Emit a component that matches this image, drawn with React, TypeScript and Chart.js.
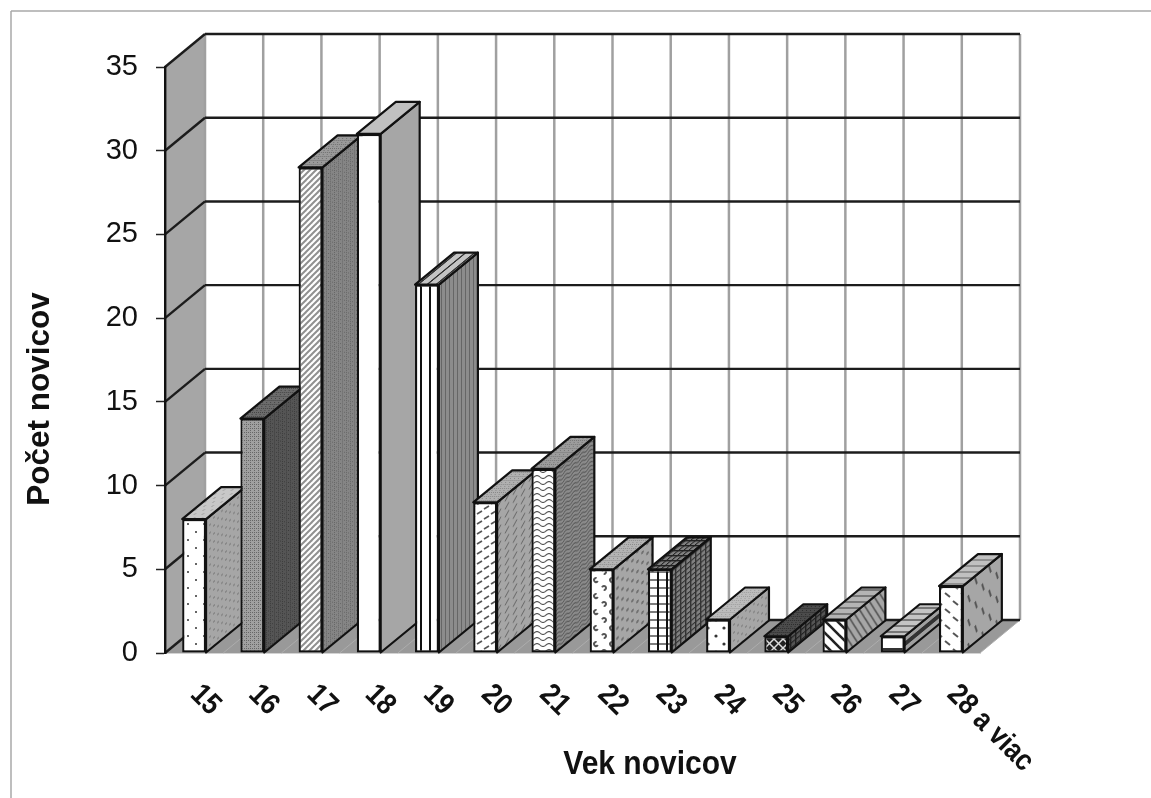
import React, { useEffect, useRef } from "react";
import { Chart, registerables } from "chart.js";

Chart.register(...registerables);

const categories = ["15", "16", "17", "18", "19", "20", "21", "22", "23", "24", "25", "26", "27", "28 a viac"];
const novices = [8, 14, 29, 31, 22, 9, 11, 5, 5, 2, 1, 2, 1, 4];
const yTitle = "Počet novicov";
const xTitle = "Vek novicov";

type Face = [string, string, string];
const frontFaces: Face[] = [
  ["dots", "#ffffff", "#333333"], ["dense", "#a0a0a0", "#666666"], ["diag", "#ffffff", "#909090"],
  ["solid", "#ffffff", "#ffffff"], ["vstripe", "#ffffff", "#111111"], ["dashUp", "#ffffff", "#555555"],
  ["wave", "#ffffff", "#555555"], ["clump", "#ffffff", "#555555"], ["plaid", "#ffffff", "#111111"],
  ["bigdots", "#ffffff", "#333333"], ["xhatch", "#222222", "#dddddd"], ["diagDown", "#ffffff", "#222222"],
  ["hband", "#ffffff", "#333333"], ["dashDown", "#ffffff", "#555555"],
];
const sideFaces: Face[] = [
  ["dotsFine", "#a6a6a6", "#808080"], ["dense", "#555555", "#3c3c3c"], ["dense", "#858585", "#666666"],
  ["solid", "#a6a6a6", "#a6a6a6"], ["vfine", "#8c8c8c", "#666666"], ["dashFine", "#a6a6a6", "#6c6c6c"],
  ["waveSmall", "#8c8c8c", "#555555"], ["clumpFine", "#a6a6a6", "#707070"], ["plaidFine", "#808080", "#333333"],
  ["dotsFine", "#a6a6a6", "#808080"], ["plaidFine", "#555555", "#222222"], ["diagSteep", "#a6a6a6", "#555555"],
  ["hband", "#a0a0a0", "#333333"], ["dashSteep", "#a6a6a6", "#555555"],
];
const topFaces: Face[] = [
  ["dotsFine", "#c8c8c8", "#a8a8a8"], ["dense", "#6c6c6c", "#444444"], ["dense", "#9a9a9a", "#707070"],
  ["solid", "#c0c0c0", "#c0c0c0"], ["vstripe", "#c4c4c4", "#333333"], ["dense", "#b0b0b0", "#888888"],
  ["dense", "#9c9c9c", "#777777"], ["dense", "#b4b4b4", "#8c8c8c"], ["plaidFine", "#808080", "#222222"],
  ["dense", "#bcbcbc", "#9c9c9c"], ["dense", "#4c4c4c", "#2c2c2c"], ["hfine", "#b4b4b4", "#777777"],
  ["hfine", "#c4c4c4", "#777777"], ["hfine", "#c0c0c0", "#909090"],
];

const WALL_DX = 40;
const WALL_DY = 33;
const BAR_DX = 39;
const BAR_DY = 32;

function line(c: CanvasRenderingContext2D, x1: number, y1: number, x2: number, y2: number) {
  c.beginPath();
  c.moveTo(x1, y1);
  c.lineTo(x2, y2);
  c.stroke();
}

function makeTile(kind: string, bg: string, fg: string): HTMLCanvasElement {
  const sizes: Record<string, [number, number]> = {
    solid: [2, 2], dots: [16, 16], dotsFine: [8, 8], dense: [4, 4], diag: [6, 6], vstripe: [9, 9], vfine: [4, 4],
    dashUp: [14, 10], dashFine: [8, 8], wave: [12, 6], waveSmall: [8, 4], clump: [16, 16], clumpFine: [10, 10],
    plaid: [9, 8], plaidFine: [5, 5], bigdots: [16, 16], xhatch: [9, 9], diagDown: [12, 12], diagSteep: [5, 12],
    hband: [20, 20], hfine: [6, 6], dashDown: [16, 16], dashSteep: [14, 24],
  };
  const [w, h] = sizes[kind];
  const t = document.createElement("canvas");
  t.width = w;
  t.height = h;
  const c = t.getContext("2d")!;
  c.fillStyle = bg;
  c.fillRect(0, 0, w, h);
  c.fillStyle = fg;
  c.strokeStyle = fg;
  const dot = (x: number, y: number, r: number) => {
    c.beginPath();
    c.arc(x, y, r, 0, Math.PI * 2);
    c.fill();
  };
  const slant = (size: number, lw: number, up: boolean) => {
    c.lineWidth = lw;
    for (let k = -size; k <= size; k += size) {
      if (up) line(c, k - 1, size + 1, k + size + 1, -1);
      else line(c, k - 1, -1, k + size + 1, size + 1);
    }
  };
  const waveLine = (amp: number, y: number, lw: number) => {
    c.lineWidth = lw;
    c.beginPath();
    for (let x = 0; x <= w; x += 0.5) {
      const py = y + amp * Math.sin((x / w) * Math.PI * 2);
      if (x === 0) c.moveTo(x, py);
      else c.lineTo(x, py);
    }
    c.stroke();
  };
  switch (kind) {
    case "dots":
      dot(4, 4, 1);
      dot(12, 12, 1);
      break;
    case "dotsFine":
      dot(2, 2, 1);
      dot(6, 6, 1);
      break;
    case "dense":
      c.fillRect(0, 0, 1, 1);
      c.fillRect(2, 2, 1, 1);
      c.fillRect(2, 0, 1, 1);
      break;
    case "diag":
      slant(6, 2, true);
      break;
    case "vstripe":
      c.fillRect(6, 0, 2, h);
      break;
    case "vfine":
      c.fillRect(1, 0, 1, h);
      break;
    case "dashUp":
      c.lineWidth = 1.6;
      line(c, 1, 4, 6, 1);
      line(c, 8, 9, 13, 6);
      break;
    case "dashFine":
      c.lineWidth = 1.4;
      line(c, 1, 6, 5, 2);
      break;
    case "wave":
      waveLine(1.5, 3, 1.2);
      break;
    case "waveSmall":
      waveLine(1, 2, 1.2);
      break;
    case "clump":
      c.lineWidth = 2;
      c.beginPath();
      c.arc(4, 4, 2, 0.5, 5);
      c.stroke();
      c.beginPath();
      c.arc(12, 12, 2, 3.5, 8);
      c.stroke();
      break;
    case "clumpFine":
      dot(2.5, 2.5, 1.4);
      dot(7.5, 7.5, 1.4);
      break;
    case "plaid":
      c.globalAlpha = 0.55;
      c.fillRect(0, 3, w, 2);
      c.globalAlpha = 1;
      c.fillRect(0, 0, 2, h);
      break;
    case "plaidFine":
      c.fillRect(0, 0, 1.4, h);
      c.fillRect(0, 0, w, 1.4);
      break;
    case "bigdots":
      dot(4, 4, 1.6);
      dot(12, 12, 1.6);
      break;
    case "xhatch":
      c.lineWidth = 1.5;
      line(c, 0, 0, 9, 9);
      line(c, 0, 9, 9, 0);
      break;
    case "diagDown":
      slant(12, 2.6, false);
      break;
    case "diagSteep":
      c.lineWidth = 1.2;
      line(c, -5, -12, 10, 24);
      line(c, -10, -12, 5, 24);
      line(c, 0, -12, 15, 24);
      break;
    case "hband":
      c.fillRect(0, 8, w, 5);
      break;
    case "hfine":
      c.fillRect(0, 1, w, 2);
      break;
    case "dashDown":
      c.lineWidth = 2;
      line(c, 1, 1, 6, 5);
      line(c, 9, 9, 14, 13);
      break;
    case "dashSteep":
      c.lineWidth = 1.6;
      line(c, 2, 2, 4, 10);
      line(c, 9, 14, 11, 22);
      break;
    default:
      break;
  }
  return t;
}

function makePattern(
  ctx: CanvasRenderingContext2D,
  face: Face,
  matrix?: [number, number, number, number, number, number]
): CanvasPattern {
  const p = ctx.createPattern(makeTile(face[0], face[1], face[2]), "repeat")!;
  if (matrix) p.setTransform(new DOMMatrix(matrix));
  return p;
}

export default function App() {
  const ref = useRef<HTMLCanvasElement | null>(null);

  useEffect(() => {
    const canvas = ref.current!;
    const c0 = canvas.getContext("2d")!;
    const sidePatterns = sideFaces.map((f) => makePattern(c0, f, [1, -WALL_DY / WALL_DX, 0, 1, 0, 0]));
    const topPatterns = topFaces.map((f) => makePattern(c0, f, [1, 0, -WALL_DX / WALL_DY, 1, 0, 0]));
    const frontPatterns = frontFaces.map((f) => makePattern(c0, f));

    const polygon = (c: CanvasRenderingContext2D, pts: number[][]) => {
      c.beginPath();
      pts.forEach((p, i) => (i ? c.lineTo(p[0], p[1]) : c.moveTo(p[0], p[1])));
      c.closePath();
    };

    const scene = {
      id: "scene",
      beforeDraw(chart: any) {
        const c = chart.ctx;
        c.save();
        c.strokeStyle = "#a8a8a8";
        c.lineWidth = 1.5;
        line(c, 11, 11, 1151, 11);
        line(c, 11, 11, 11, 798);
        c.restore();
      },
      beforeDatasetsDraw(chart: any) {
        const c = chart.ctx;
        const { y } = chart.scales;
        const { left, right, top, bottom } = chart.chartArea;
        const step = (right - left) / categories.length;
        c.save();
        polygon(c, [[left, top], [left + WALL_DX, top - WALL_DY], [left + WALL_DX, bottom - WALL_DY], [left, bottom]]);
        c.fillStyle = "#a6a6a6";
        c.fill();
        polygon(c, [[left, bottom], [left + WALL_DX, bottom - WALL_DY], [right + WALL_DX, bottom - WALL_DY], [right, bottom]]);
        c.fillStyle = "#999999";
        c.fill();
        for (let i = 0; i <= categories.length; i++) {
          const px = left + i * step;
          c.strokeStyle = "#a0a0a0";
          c.lineWidth = 2.5;
          line(c, px + WALL_DX, top - WALL_DY, px + WALL_DX, bottom - WALL_DY);
          c.strokeStyle = "#adadad";
          c.lineWidth = 1;
          line(c, px, bottom, px + WALL_DX, bottom - WALL_DY);
        }
        c.strokeStyle = "#1c1c1c";
        c.lineWidth = 2.4;
        y.ticks.forEach((t: any) => {
          const py = y.getPixelForValue(t.value);
          line(c, left, py, left + WALL_DX, py - WALL_DY);
          line(c, left + WALL_DX, py - WALL_DY, right + WALL_DX, py - WALL_DY);
        });
        const bars = chart.getDatasetMeta(0).data;
        c.lineJoin = "round";
        c.strokeStyle = "#111111";
        c.lineWidth = 2.2;
        bars.forEach((bar: any, i: number) => {
          const l = bar.x - bar.width / 2;
          const r = bar.x + bar.width / 2;
          const t = bar.y;
          const b = bar.base;
          polygon(c, [[r, t], [r + BAR_DX, t - BAR_DY], [r + BAR_DX, b - BAR_DY], [r, b]]);
          c.fillStyle = sidePatterns[i];
          c.fill();
          c.stroke();
          polygon(c, [[l, t], [l + BAR_DX, t - BAR_DY], [r + BAR_DX, t - BAR_DY], [r, t]]);
          c.fillStyle = topPatterns[i];
          c.fill();
          c.stroke();
        });
        c.restore();
      },
      afterDraw(chart: any) {
        const c = chart.ctx;
        const { x } = chart.scales;
        c.save();
        c.fillStyle = "#111111";
        c.font = 'bold 26px "Liberation Sans"';
        c.textAlign = "left";
        c.textBaseline = "middle";
        categories.forEach((label, i) => {
          c.save();
          c.translate(x.getPixelForTick(i) + 1, 690);
          c.rotate(Math.PI / 4);
          c.scale(1, 1.15);
          c.fillText(label, 0, 0);
          c.restore();
        });
        c.textAlign = "center";
        c.save();
        c.font = 'bold 30px "Liberation Sans"';
        c.translate(650, 765);
        c.scale(1, 1.08);
        c.fillText(xTitle, 0, 0);
        c.restore();
        c.font = 'bold 31.5px "Liberation Sans"';
        c.translate(40, 399);
        c.rotate(-Math.PI / 2);
        c.fillText(yTitle, 0, 0);
        c.restore();
      },
    };

    const chart = new Chart(canvas, {
      type: "bar",
      data: {
        labels: categories,
        datasets: [
          {
            data: novices,
            backgroundColor: frontPatterns,
            borderColor: "#111111",
            borderWidth: 2.2,
            borderSkipped: false,
            categoryPercentage: 1,
            barPercentage: 0.41,
          },
        ],
      },
      options: {
        animation: false,
        responsive: false,
        events: [],
        layout: { padding: { left: 0, top: 67, right: 171, bottom: 145 } },
        plugins: { legend: { display: false }, tooltip: { enabled: false }, title: { display: false } },
        scales: {
          x: {
            offset: true,
            grid: { display: false },
            border: { color: "#a8a8a8", width: 1.5 },
            ticks: { display: false },
            afterFit: (s: any) => {
              s.height = 0;
            },
          },
          y: {
            min: 0,
            max: 35,
            afterFit: (s: any) => {
              s.width = 165;
            },
            grid: { drawOnChartArea: false, drawTicks: true, tickLength: 9, tickColor: "#222222", tickWidth: 1.5 },
            border: { color: "#111111", width: 2.4, z: 1 },
            ticks: {
              stepSize: 5,
              padding: 18,
              color: "#111111",
              font: { family: '"Liberation Sans"', size: 29 },
            },
          },
        },
      },
      plugins: [scene],
    } as any);
    return () => chart.destroy();
  }, []);

  return (
    <div style={{ position: "absolute", left: 0, top: 0, width: 1151, height: 798, background: "#ffffff" }}>
      <canvas ref={ref} width={1151} height={798} style={{ display: "block", filter: "blur(0.5px)" }} />
    </div>
  );
}
